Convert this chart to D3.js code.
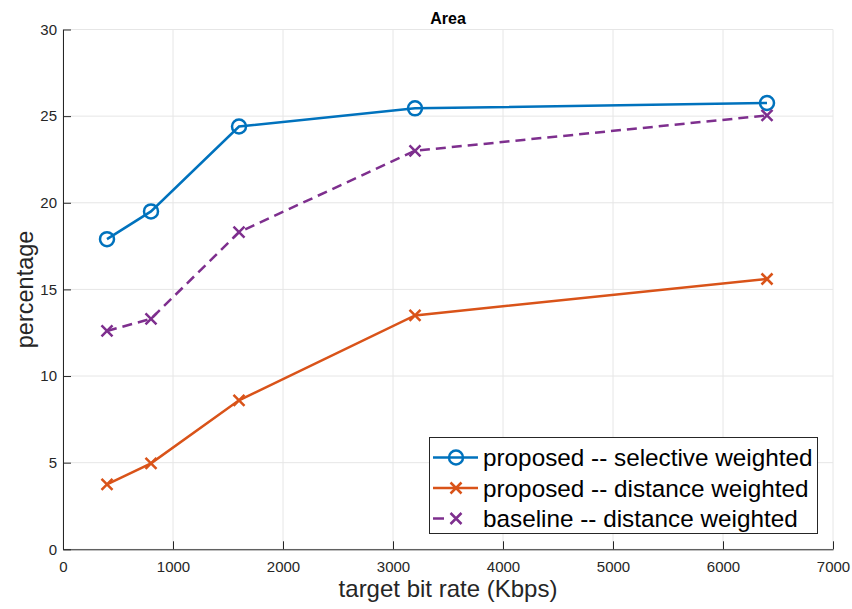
<!DOCTYPE html>
<html>
<head>
<meta charset="utf-8">
<script src="https://cdn.jsdelivr.net/npm/d3@7"></script>
<style>
  body { margin: 0; background: #fff; }
  svg { display: block; font-family: "Liberation Sans", Arial, Helvetica, sans-serif; }
</style>
</head>
<body>
<svg id="chart" width="852" height="609"></svg>
<script>
// Target bit rates (Kbps)
const bitRates = [400, 800, 1600, 3200, 6400];

// Percentage for each method
const selectiveWeighted = [17.9, 19.5, 24.4, 25.45, 25.76];
const distanceWeighted = [3.75, 4.96, 8.6, 13.5, 15.6];
const baselineDistance = [12.6, 13.3, 18.3, 23.0, 25.04];

const seriesNames = [
  "proposed -- selective weighted",
  "proposed -- distance weighted",
  "baseline -- distance weighted"
];

const xTicks = [0, 1000, 2000, 3000, 4000, 5000, 6000, 7000];
const yTicks = [0, 5, 10, 15, 20, 25, 30];

const series = [
  { name: seriesNames[0], values: selectiveWeighted, color: "#0072BD", marker: "o", dash: null, legendDash: null },
  { name: seriesNames[1], values: distanceWeighted, color: "#D95319", marker: "x", dash: null, legendDash: null },
  { name: seriesNames[2], values: baselineDistance, color: "#7E2F8E", marker: "x", dash: "10,6", legendDash: "11,100" }
];

const svg = d3.select("#chart");
const plotLeft = 63, plotRight = 833, plotTop = 29.5, plotBottom = 549.3;
const lineWidth = 2.5;

const x = d3.scaleLinear().domain([0, 7000]).range([plotLeft, plotRight]);
const y = d3.scaleLinear().domain([0, 30]).range([plotBottom, plotTop]);

// grid
const grid = svg.append("g");
grid.selectAll(".gx").data(xTicks).enter().append("line")
  .attr("x1", d => x(d)).attr("x2", d => x(d))
  .attr("y1", plotTop).attr("y2", plotBottom)
  .attr("stroke", "#e6e6e6").attr("stroke-width", 1);
grid.selectAll(".gy").data(yTicks).enter().append("line")
  .attr("x1", plotLeft).attr("x2", plotRight)
  .attr("y1", d => y(d)).attr("y2", d => y(d))
  .attr("stroke", "#e6e6e6").attr("stroke-width", 1);

// axes (ticks point inward)
const fmt = d3.format("d");
const xAxis = svg.append("g").attr("transform", `translate(0,${plotBottom})`)
  .call(d3.axisBottom(x).tickValues(xTicks).tickFormat(fmt).tickSizeInner(-8).tickSizeOuter(0).tickPadding(12));
const yAxis = svg.append("g").attr("transform", `translate(${plotLeft},0)`)
  .call(d3.axisLeft(y).tickValues(yTicks).tickFormat(fmt).tickSizeInner(-8).tickSizeOuter(0).tickPadding(6));
[xAxis, yAxis].forEach(a => {
  a.select(".domain").attr("stroke", "#262626").attr("stroke-width", 1);
  a.selectAll(".tick line").attr("stroke", "#262626");
  a.selectAll(".tick text").attr("fill", "#262626")
    .style("font-size", "15px").style("font-family", "'Liberation Sans', Arial, sans-serif");
});

// lines and markers
const line = d3.line().x((d, i) => x(bitRates[i])).y(d => y(d));
series.forEach(s => {
  svg.append("path").datum(s.values)
    .attr("d", line).attr("fill", "none")
    .attr("stroke", s.color).attr("stroke-width", lineWidth)
    .attr("stroke-dasharray", s.dash);
  const g = svg.append("g");
  s.values.forEach((v, i) => drawMarker(g, x(bitRates[i]), y(v), s));
});

function drawMarker(g, cx, cy, s) {
  if (s.marker === "o") {
    g.append("circle").attr("cx", cx).attr("cy", cy).attr("r", 7)
      .attr("fill", "none").attr("stroke", s.color).attr("stroke-width", lineWidth);
  } else {
    const r = 5.5;
    g.append("path")
      .attr("d", `M${cx - r},${cy - r}L${cx + r},${cy + r}M${cx - r},${cy + r}L${cx + r},${cy - r}`)
      .attr("stroke", s.color).attr("stroke-width", lineWidth).attr("fill", "none");
  }
}

// title and axis labels
svg.append("text").attr("x", (plotLeft + plotRight) / 2).attr("y", 24)
  .attr("text-anchor", "middle").style("font-size", "16px").style("font-weight", "bold")
  .attr("fill", "#000").text("Area");
svg.append("text").attr("x", (plotLeft + plotRight) / 2).attr("y", 597)
  .attr("text-anchor", "middle").style("font-size", "24px").attr("fill", "#262626")
  .text("target bit rate (Kbps)");
svg.append("text").attr("transform", `translate(33,${(plotTop + plotBottom) / 2}) rotate(-90)`)
  .attr("text-anchor", "middle").style("font-size", "23.5px").attr("fill", "#262626")
  .text("percentage");

// legend
const lg = svg.append("g");
lg.append("rect").attr("x", 429.5).attr("y", 437.5).attr("width", 388).attr("height", 96)
  .attr("fill", "#fff").attr("stroke", "#262626").attr("stroke-width", 1);
series.forEach((s, i) => {
  const ly = 457.5 + i * 30.5;
  lg.append("line").attr("x1", 433).attr("x2", 478).attr("y1", ly).attr("y2", ly)
    .attr("stroke", s.color).attr("stroke-width", lineWidth)
    .attr("stroke-dasharray", s.legendDash);
  drawMarker(lg, 456, ly, s);
  lg.append("text").attr("x", 483).attr("y", ly + 8.5)
    .style("font-size", "24.3px").attr("fill", "#000").text(s.name);
});
</script>
</body>
</html>
